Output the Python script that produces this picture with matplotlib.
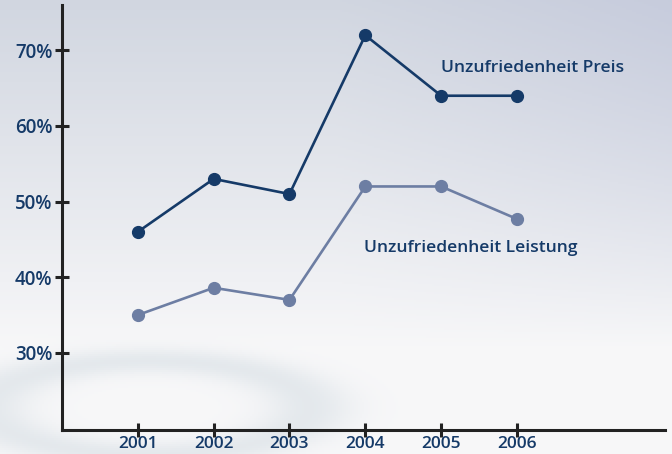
import numpy as np
import matplotlib.pyplot as plt
from matplotlib.ticker import FuncFormatter

years = [2001, 2002, 2003, 2004, 2005, 2006]
preis = [46, 53, 51, 72, 64, 64]
leistung = [35, 38.6, 37, 52, 52, 47.7]

navy = "#153a68"
light = "#6d7ea3"
axis_col = "#222222"

plt.rcParams['font.family'] = ['Open Sans', 'DejaVu Sans']

fig = plt.figure(figsize=(6.72, 4.54), dpi=100)

# background gradient
bg = fig.add_axes([0, 0, 1, 1], zorder=-10)
h, w = 227, 336
yy, xx = np.mgrid[0:1:h*1j, 0:1:w*1j]
top = np.array([0.82, 0.84, 0.88])
mid = np.array([0.97, 0.97, 0.975])
blue = np.array([0.74, 0.76, 0.85])
t = np.clip(yy * 1.3, 0, 1)[..., None]
img = top * (1 - t) + mid * t
corner = np.clip((xx - 0.5) * 2, 0, 1) * np.clip(1 - yy * 1.3, 0, 1)
img = img * (1 - corner[..., None] * 0.5) + blue * corner[..., None] * 0.5
# faint swirl bottom-left
d = np.sqrt(((xx - 0.22) / 0.3) ** 2 + ((yy - 0.9) / 0.13) ** 2)
ring = np.exp(-((d - 0.8) ** 2) / 0.05) * (yy > 0.72)
swirl = np.array([0.72, 0.78, 0.82])
img = img * (1 - ring[..., None] * 0.3) + swirl * ring[..., None] * 0.3
bg.imshow(img, aspect='auto', extent=[0, 1, 0, 1], origin='upper')
bg.axis('off')

ax = fig.add_axes([0.0923, 0.053, 0.897, 0.936])
ax.patch.set_alpha(0)

ax.plot(years, preis, color=navy, lw=1.9, marker='o', ms=8.5)
ax.plot(years, leistung, color=light, lw=1.9, marker='o', ms=8.5)

ax.text(2005.0, 67.7, "Unzufriedenheit Preis", color=navy, fontsize=12.6,
        fontweight='semibold', va='center', ha='left')
ax.text(2003.98, 43.9, "Unzufriedenheit Leistung", color=navy, fontsize=12.6,
        fontweight='semibold', va='center', ha='left')

ax.set_xlim(2000, 2007.95)
ax.set_ylim(19.8, 76)
ax.set_xticks(years)
ax.set_yticks([30, 40, 50, 60, 70])
ax.yaxis.set_major_formatter(FuncFormatter(lambda v, p: f"{int(v)}%"))

for s in ['top', 'right']:
    ax.spines[s].set_visible(False)
for s in ['left', 'bottom']:
    ax.spines[s].set_color(axis_col)
    ax.spines[s].set_linewidth(2.2)

ax.tick_params(direction='inout', length=10, width=2.2, color=axis_col,
               labelcolor=navy, labelsize=13.5)
ax.tick_params(axis='x', pad=-0.5, labelsize=12.5)
ax.tick_params(axis='y', pad=2)
for lab in ax.get_xticklabels() + ax.get_yticklabels():
    lab.set_fontweight('semibold')

fig.savefig("out.png", dpi=100)
